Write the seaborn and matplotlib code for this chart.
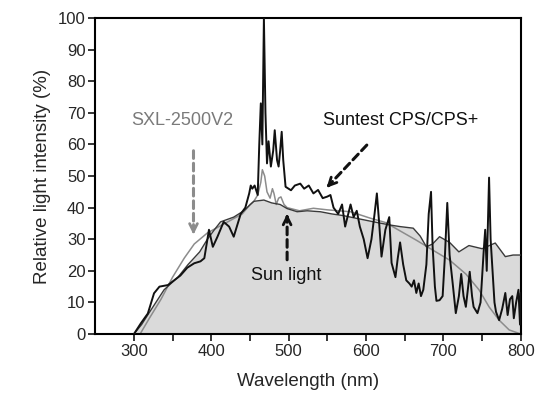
import numpy as np
import pandas as pd
import matplotlib
matplotlib.use("Agg")
import matplotlib.pyplot as plt
import seaborn as sns

# data
# Suntest CPS/CPS+ (black, spiky)
cps_wl = [300, 309, 318, 326, 333, 344, 352, 360, 369, 378, 386, 391, 397, 402, 408, 416, 423, 429,
          438, 444, 449, 451, 453, 456, 460, 462, 464, 466, 468, 470, 472, 474, 477, 480, 482, 485,
          487, 489, 491, 493, 496, 503, 508, 515, 520, 526, 532, 538, 544, 550, 554, 558, 564, 569,
          573, 580, 584, 588, 592, 597, 602, 607, 611, 614, 617, 620, 625, 630, 633, 638, 641, 644,
          648, 652, 656, 659, 662, 665, 668, 671, 674, 678, 681, 684, 686, 689, 691, 695, 699, 702,
          705, 708, 712, 716, 720, 723, 726, 729, 732, 734, 737, 739, 744, 748, 752, 754, 756, 759,
          761, 763, 766, 768, 772, 776, 780, 783, 786, 789, 791, 794, 797, 799, 800]
cps_int = [0, 3.4, 6.5, 12.9, 15, 15.5, 17, 18.5, 21, 22.4, 23, 24, 33, 27.6, 30.8, 35.5, 34, 30.8,
           38, 40, 44.5, 47, 46, 47, 44, 60, 73, 60, 100, 70, 54, 61, 53, 58, 64.5, 55,
           53, 58, 64, 55, 46.6, 45.5, 47, 47.6, 46, 47, 44.5, 45.6, 43, 43.5, 44, 40, 38, 41,
           34, 41, 37, 39, 34, 30, 24, 30, 38, 44.5, 35, 24.5, 33, 37, 22.5, 18, 24, 29,
           22, 17, 16, 15, 17, 13, 16, 12, 14, 22, 38, 45, 28, 15, 10.5, 10.7, 12, 25,
           41.5, 25, 16, 6.6, 12, 19, 12, 8.6, 15, 19.7, 12, 8.6, 6.6, 10, 26, 33, 20, 49.5,
           30, 22, 10, 7, 4.4, 8, 13, 6, 11, 12, 5, 10, 14, 3, 13]

# SXL-2500V2 (grey, smooth)
sxl_wl = [308, 320, 335, 350, 365, 378, 395, 410, 425, 440, 450, 455, 460, 464, 466, 469, 472,
          476, 479, 481, 484, 487, 490, 494, 498, 514, 532, 550, 580, 605, 625, 645, 665, 686,
          708, 729, 746, 759, 772, 785, 800]
sxl_int = [0, 5, 11, 18, 24, 28.5, 32, 34, 36, 38, 41, 42, 44, 48, 52, 50, 45,
           43, 46, 44.5, 41, 43, 43.4, 41, 40, 39, 39.8, 39.3, 38.7, 36.7, 35.3, 32.5, 29.7, 26.6,
           23.4, 19, 14, 8.6, 4.4, 1.3, 0]

# Sun light (filled)
sun_wl = [300, 310, 322, 339, 357, 370, 385, 395, 404, 412, 429, 442, 455, 468, 478, 489, 498,
          511, 524, 541, 556, 570, 588, 610, 631, 644, 661, 670, 678, 686, 695, 708, 720, 733,
          750, 767, 780, 790, 800]
sun_int = [0, 3, 7.6, 14, 18, 22, 26, 30, 33, 35.5, 37, 39, 42, 42.4, 41.5, 41, 39.7,
           38.7, 39, 38.7, 38, 37.5, 36.6, 35.5, 34.5, 34, 33.5, 31, 27.6, 28.5, 30.8, 29, 26, 28,
           27, 28.8, 24.5, 25, 25]

x_ticks = [300, 400, 500, 600, 700, 800]
y_ticks = list(range(0, 101, 10))

sns.set_style("ticks")
plt.rcParams['font.family'] = ['Liberation Sans', 'DejaVu Sans']

df_cps = pd.DataFrame({'wl': cps_wl, 'val': cps_int})
df_sxl = pd.DataFrame({'wl': sxl_wl, 'val': sxl_int})
df_sun = pd.DataFrame({'wl': sun_wl, 'val': sun_int})

fig = plt.figure(figsize=(5.38, 4.01), dpi=100)
ax = fig.add_axes([0.177, 0.167, 0.791, 0.788])

# 太陽光填色
ax.fill_between(df_sun['wl'], df_sun['val'], color='#dadada', lw=0, zorder=1)
sns.lineplot(data=df_sun, x='wl', y='val', color='#3a3a3a', lw=1.0, ax=ax, zorder=3)
sns.lineplot(data=df_sxl, x='wl', y='val', color='#8c8c8c', lw=1.1, ax=ax, zorder=2)
sns.lineplot(data=df_cps, x='wl', y='val', color='#111111', lw=1.4, ax=ax, zorder=4)

ax.set_xlim(250, 800)
ax.set_ylim(0, 100)
ax.set_xticks(range(300, 801, 50))
ax.set_xticklabels([str(t) if t in x_ticks else '' for t in range(300, 801, 50)], fontsize=12)
ax.set_yticks(y_ticks)
ax.set_yticklabels([str(t) for t in y_ticks], fontsize=12)
ax.tick_params(direction='out', length=5, width=1.3, pad=2)
for s in ax.spines.values():
    s.set_linewidth(1.5)
    s.set_color('black')

ax.set_xlabel('Wavelength (nm)', fontsize=13.5, labelpad=10)
ax.set_ylabel('Relative light intensity (%)', fontsize=13.5, labelpad=5)


def dashed_arrow(start, end, color):
    # 虛線箭身 + 實線箭頭
    ax.annotate('', xy=end, xytext=start,
                arrowprops=dict(arrowstyle='-', color=color, lw=2.2, ls=(0, (2.5, 1.6)),
                                shrinkA=0, shrinkB=2))
    dx = (end[0] - start[0]) * 0.12
    dy = (end[1] - start[1]) * 0.12
    ax.annotate('', xy=end, xytext=(end[0] - dx, end[1] - dy),
                arrowprops=dict(arrowstyle='->', color=color, lw=2.0, mutation_scale=14,
                                shrinkA=0, shrinkB=0))


ax.text(297, 67.7, 'SXL-2500V2', color='#7a7a7a', fontsize=13, va='center', ha='left')
dashed_arrow((377, 58), (377, 31.5), '#8c8c8c')
ax.text(544, 67.7, 'Suntest CPS/CPS+', color='#111111', fontsize=13, va='center', ha='left')
dashed_arrow((601, 59.8), (549, 46.3), '#111111')
ax.text(451, 18.4, 'Sun light', color='#111111', fontsize=13, va='center', ha='left')
dashed_arrow((498, 23.5), (498, 38), '#111111')

fig.savefig('out.png', dpi=100)
